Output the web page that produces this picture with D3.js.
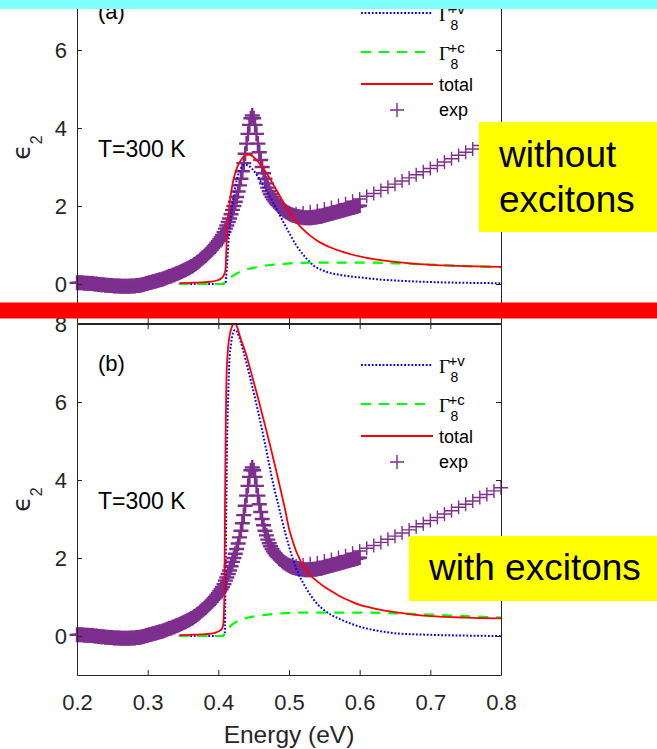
<!DOCTYPE html>
<html>
<head>
<meta charset="utf-8">
<script src="https://cdn.jsdelivr.net/npm/d3@7"></script>
<style>
  html, body { margin: 0; padding: 0; background: #fff; }
  svg { display: block; }
</style>
</head>
<body>
<script>
// ---- axis ticks ----
const energyTicks = [0.2, 0.3, 0.4, 0.5, 0.6, 0.7, 0.8];
const epsTicks = [0, 2, 4, 6, 8];

// ---- measured eps2, fine scan (2 meV steps, 0.200 ... 0.600 eV) ----
const expFineEps = [
  0.03,0.03,0.03,0.03,0.03,0.02,0.02,0.02,0.02,0.01,
  0.01,0.01,0.00,0.00,0.00,-0.01,-0.01,-0.02,-0.02,-0.02,
  -0.03,-0.03,-0.03,-0.04,-0.04,-0.04,-0.05,-0.05,-0.05,-0.05,
  -0.05,-0.06,-0.06,-0.06,-0.06,-0.06,-0.06,-0.06,-0.05,-0.05,
  -0.05,-0.05,-0.04,-0.04,-0.03,-0.03,-0.02,-0.01,0.00,0.01,
  0.02,0.03,0.04,0.05,0.06,0.07,0.08,0.09,0.10,0.11,
  0.12,0.13,0.15,0.16,0.17,0.19,0.20,0.21,0.23,0.24,
  0.26,0.27,0.29,0.30,0.32,0.34,0.35,0.37,0.39,0.41,
  0.43,0.45,0.47,0.50,0.52,0.55,0.58,0.61,0.64,0.67,
  0.70,0.73,0.77,0.80,0.84,0.88,0.92,0.96,1.00,1.05,
  1.10,1.15,1.20,1.26,1.33,1.42,1.50,1.59,1.68,1.79,
  1.90,2.00,2.11,2.23,2.37,2.53,2.70,2.89,3.10,3.34,
  3.60,3.85,4.08,4.25,4.32,4.25,4.08,3.85,3.60,3.38,
  3.18,3.00,2.84,2.70,2.58,2.47,2.38,2.30,2.23,2.17,
  2.12,2.07,2.03,1.99,1.96,1.93,1.90,1.87,1.85,1.83,
  1.81,1.79,1.77,1.76,1.75,1.74,1.73,1.72,1.72,1.71,
  1.71,1.70,1.70,1.70,1.70,1.70,1.70,1.71,1.71,1.72,
  1.72,1.73,1.73,1.74,1.75,1.76,1.77,1.78,1.79,1.80,
  1.81,1.82,1.83,1.84,1.85,1.86,1.87,1.88,1.89,1.90,
  1.91,1.92,1.93,1.94,1.95,1.96,1.97,1.98,1.99,2.00,
  2.01
];
// ---- measured eps2, coarse scan (10 meV steps, 0.51 ... 0.80 eV) ----
const expCoarseEps = [
  1.80,1.82,1.85,1.88,1.92,1.96,2.01,2.06,2.12,2.18,
  2.25,2.32,2.40,2.48,2.56,2.64,2.72,2.80,2.88,2.96,
  3.04,3.13,3.21,3.30,3.38,3.46,3.55,3.63,3.72,3.80
];

// ---- model, without excitons: [energy eV, eps2] ----
const gvNoExc = [[0.345,0],[0.405,0],[0.410,0.02],[0.412,0.4],[0.414,1.0],[0.417,1.6],[0.420,2.05],[0.424,2.5],[0.428,2.8],[0.432,2.97],[0.437,3.06],[0.442,3.04],[0.448,2.95],[0.455,2.78],[0.462,2.57],[0.470,2.33],[0.478,2.07],[0.486,1.8],[0.494,1.52],[0.502,1.25],[0.510,1.0],[0.518,0.8],[0.526,0.63],[0.535,0.47],[0.545,0.37],[0.555,0.3],[0.57,0.24],[0.585,0.2],[0.6,0.17],[0.625,0.12],[0.65,0.09],[0.7,0.05],[0.75,0.03],[0.8,0.02]];
const gcNoExc = [[0.345,0],[0.405,0],[0.41,0.05],[0.415,0.13],[0.42,0.2],[0.426,0.27],[0.433,0.33],[0.443,0.39],[0.454,0.43],[0.47,0.48],[0.49,0.51],[0.51,0.54],[0.54,0.55],[0.6,0.55],[0.65,0.53],[0.7,0.5],[0.75,0.46],[0.8,0.43]];
const totNoExc = [[0.345,0.02],[0.36,0.03],[0.375,0.04],[0.39,0.06],[0.398,0.09],[0.403,0.13],[0.407,0.2],[0.410,0.35],[0.411,0.7],[0.412,1.2],[0.414,1.7],[0.417,2.2],[0.420,2.55],[0.424,2.85],[0.428,3.05],[0.433,3.2],[0.438,3.3],[0.443,3.32],[0.448,3.28],[0.455,3.16],[0.463,2.98],[0.471,2.76],[0.48,2.48],[0.49,2.16],[0.5,1.86],[0.51,1.6],[0.52,1.4],[0.53,1.24],[0.54,1.11],[0.55,1.01],[0.56,0.93],[0.575,0.83],[0.59,0.75],[0.61,0.67],[0.63,0.61],[0.65,0.57],[0.675,0.52],[0.7,0.49],[0.75,0.46],[0.8,0.44]];

// ---- model, with excitons ----
const gvExc = [[0.345,0],[0.405,0],[0.409,0.05],[0.4105,2.0],[0.412,4.5],[0.414,6.2],[0.4155,7.0],[0.418,7.5],[0.421,7.78],[0.4236,7.85],[0.427,7.78],[0.431,7.58],[0.435,7.33],[0.44,6.98],[0.445,6.62],[0.45,6.25],[0.455,5.85],[0.46,5.45],[0.465,5.02],[0.47,4.58],[0.475,4.12],[0.48,3.72],[0.485,3.35],[0.49,2.98],[0.495,2.62],[0.5,2.3],[0.505,2.0],[0.51,1.74],[0.52,1.36],[0.53,1.06],[0.54,0.82],[0.55,0.66],[0.56,0.54],[0.57,0.45],[0.58,0.37],[0.59,0.3],[0.6,0.24],[0.615,0.17],[0.63,0.12],[0.65,0.07],[0.7,0.03],[0.75,0.01],[0.8,0]];
const gcExc = [[0.345,0],[0.405,0],[0.41,0.07],[0.416,0.23],[0.42,0.3],[0.425,0.36],[0.431,0.41],[0.44,0.46],[0.454,0.51],[0.47,0.55],[0.49,0.58],[0.52,0.6],[0.56,0.6],[0.6,0.6],[0.65,0.58],[0.7,0.55],[0.75,0.51],[0.8,0.47]];
const totExc = [[0.345,0.02],[0.36,0.03],[0.375,0.04],[0.39,0.06],[0.398,0.1],[0.403,0.15],[0.406,0.22],[0.407,0.3],[0.4085,1.0],[0.4095,3.5],[0.4105,5.5],[0.4115,6.6],[0.413,7.2],[0.4155,7.65],[0.419,7.92],[0.4225,8.02],[0.426,7.95],[0.43,7.72],[0.435,7.45],[0.44,7.18],[0.445,6.85],[0.45,6.52],[0.455,6.18],[0.46,5.83],[0.465,5.48],[0.47,5.12],[0.475,4.76],[0.48,4.38],[0.485,4.0],[0.49,3.6],[0.495,3.2],[0.5,2.75],[0.505,2.45],[0.51,2.18],[0.515,1.98],[0.52,1.8],[0.53,1.56],[0.54,1.4],[0.55,1.26],[0.56,1.15],[0.57,1.04],[0.58,0.95],[0.59,0.87],[0.6,0.8],[0.615,0.73],[0.63,0.67],[0.65,0.61],[0.675,0.55],[0.7,0.51],[0.75,0.47],[0.8,0.45]];

const W = 657, H = 749;
const SANS = "'Liberation Sans', Arial, Helvetica, sans-serif";
const SERIF = "'Liberation Serif', 'Times New Roman', serif";
const AXIS = "#262626";
const PURPLE = "#7e2f8e";

const fineE = d3.range(expFineEps.length).map(i => 0.2 + i * 0.002);
const coarseE = d3.range(expCoarseEps.length).map(i => 0.51 + i * 0.01);
const finePts = fineE.map((e, i) => [e, expFineEps[i]]);
const coarsePts = coarseE.map((e, i) => [e, expCoarseEps[i]]);

const svg = d3.select("body").append("svg")
  .attr("width", W).attr("height", H)
  .attr("font-family", SANS);
svg.append("rect").attr("width", W).attr("height", H).attr("fill", "#fff");

const x = d3.scaleLinear().domain([0.2, 0.8]).range([77, 501]);
const PLUS = "M-7,0H7M0,-7V7";
const PLUS_FINE = "M-7.5,0H7.5M0,-7.5V7.5";

const panels = [
  { id: "b", top: 324, bottom: 675, tag: "(b)", gv: gvExc, gc: gcExc, tot: totExc, xLabels: true },
  { id: "a", top: -28, bottom: 323, tag: "(a)", gv: gvNoExc, gc: gcNoExc, tot: totNoExc, xLabels: false }
];

function styleAxis(sel) {
  sel.attr("font-family", SANS).attr("font-size", 22);
  sel.select(".domain").attr("stroke", AXIS).attr("stroke-width", 1);
  sel.selectAll(".tick line").attr("stroke", AXIS).attr("stroke-width", 1);
  sel.selectAll(".tick text").attr("fill", AXIS);
}

panels.forEach(p => {
  const y = d3.scaleLinear().domain([-1, 8]).range([p.bottom, p.top]);
  const g = svg.append("g");

  g.append("clipPath").attr("id", "clip-" + p.id)
    .append("rect").attr("x", x(0.2)).attr("y", p.top)
    .attr("width", x(0.8) - x(0.2)).attr("height", p.bottom - p.top);

  // measured points: fine scan, then coarse scan
  const marks = g.append("g").attr("fill", "none").attr("stroke", PURPLE);
  marks.append("g").attr("stroke-width", 2.4).selectAll("path").data(finePts).join("path")
    .attr("d", PLUS_FINE)
    .attr("transform", d => `translate(${x(d[0])},${y(d[1])})`);
  marks.append("g").attr("stroke-width", 1.4).selectAll("path").data(coarsePts).join("path")
    .attr("d", PLUS)
    .attr("transform", d => `translate(${x(d[0])},${y(d[1])})`);

  // model curves
  const line = d3.line().x(d => x(d[0])).y(d => y(d[1])).curve(d3.curveMonotoneX);
  const curves = g.append("g").attr("clip-path", `url(#clip-${p.id})`).attr("fill", "none");
  curves.append("path").attr("d", line(p.gv))
    .attr("stroke", "#0000ff").attr("stroke-width", 2).attr("stroke-dasharray", "1.8,1.8");
  curves.append("path").attr("d", line(p.gc))
    .attr("stroke", "#00ff00").attr("stroke-width", 2.2).attr("stroke-dasharray", "10,8");
  curves.append("path").attr("d", line(p.tot))
    .attr("stroke", "#ff0000").attr("stroke-width", 1.8);

  // axes box with inward ticks
  g.append("g").attr("transform", `translate(0,${p.bottom})`)
    .call(d3.axisBottom(x).tickValues(energyTicks).tickSizeInner(-5).tickSizeOuter(0).tickPadding(19)
      .tickFormat(p.xLabels ? d3.format(".1f") : () => ""))
    .call(styleAxis);
  g.append("g").attr("transform", `translate(0,${p.top})`)
    .call(d3.axisTop(x).tickValues(energyTicks).tickSizeInner(-5).tickSizeOuter(0).tickFormat(() => ""))
    .call(styleAxis);
  g.append("g").attr("transform", `translate(${x(0.2)},0)`)
    .call(d3.axisLeft(y).tickValues(epsTicks).tickSizeInner(-5).tickSizeOuter(0).tickPadding(10))
    .call(styleAxis);
  g.append("g").attr("transform", `translate(${x(0.8)},0)`)
    .call(d3.axisRight(y).tickValues(epsTicks).tickSizeInner(-5).tickSizeOuter(0).tickFormat(() => ""))
    .call(styleAxis);

  // y label: epsilon_2
  const yl = g.append("text")
    .attr("transform", `translate(30,${(p.top + p.bottom) / 2}) rotate(-90)`)
    .attr("text-anchor", "middle").attr("fill", AXIS)
    .attr("font-family", "'DejaVu Sans', " + SANS);
  yl.append("tspan").attr("font-size", 25).text("\u03F5");
  yl.append("tspan").attr("font-size", 16).attr("dy", 12).attr("font-family", SANS).text("2");

  // panel tag and temperature
  g.append("text").attr("x", 98).attr("y", p.top + 46.7).attr("font-size", 22).attr("fill", "#000").text(p.tag);
  g.append("text").attr("x", 98).attr("y", p.top + 185.3).attr("font-size", 23).attr("fill", "#000").text("T=300 K");

  // legend
  const lg = g.append("g");
  const rows = [
    { dy: 41, stroke: "#0000ff", w: 2, dash: "1.8,1.8", sup: "+v" },
    { dy: 80, stroke: "#00ff00", w: 2.2, dash: "10,8", sup: "+c" },
    { dy: 112, stroke: "#ff0000", w: 1.8, dash: null, txt: "total" }
  ];
  rows.forEach(r => {
    const ly = p.top + r.dy;
    const ln = lg.append("line").attr("x1", 361).attr("x2", 433).attr("y1", ly).attr("y2", ly)
      .attr("stroke", r.stroke).attr("stroke-width", r.w);
    if (r.dash) ln.attr("stroke-dasharray", r.dash);
    if (r.sup) {
      lg.append("text").attr("x", 439).attr("y", ly + 7.7).attr("font-family", SERIF)
        .attr("font-size", 19).attr("fill", "#000").text("\u0393");
      lg.append("text").attr("x", 448.5).attr("y", ly + 0.5).attr("font-size", 15).attr("fill", "#000").text(r.sup);
      lg.append("text").attr("x", 450.5).attr("y", ly + 16.7).attr("font-size", 14).attr("fill", "#000").text("8");
    } else {
      lg.append("text").attr("x", 439).attr("y", ly + 6.5).attr("font-size", 18).attr("fill", "#000").text(r.txt);
    }
  });
  lg.append("path").attr("d", PLUS).attr("transform", `translate(397,${p.top + 138})`)
    .attr("fill", "none").attr("stroke", PURPLE).attr("stroke-width", 1.4);
  lg.append("text").attr("x", 439).attr("y", p.top + 144).attr("font-size", 18).attr("fill", "#000").text("exp");
});

// x label
svg.append("text").attr("x", 289).attr("y", 743).attr("text-anchor", "middle")
  .attr("font-size", 24.5).attr("fill", AXIS).text("Energy (eV)");

// overlays
svg.append("rect").attr("x", 0).attr("y", 0).attr("width", W).attr("height", 9).attr("fill", "#80ffff");
svg.append("rect").attr("x", 0).attr("y", 302.5).attr("width", W).attr("height", 16).attr("fill", "#ff0000");

svg.append("rect").attr("x", 479).attr("y", 122).attr("width", W - 479).attr("height", 110).attr("fill", "#ffff00");
svg.append("text").attr("x", 499).attr("y", 166.7).attr("font-size", 37).attr("fill", "#000").text("without");
svg.append("text").attr("x", 499).attr("y", 211.7).attr("font-size", 37).attr("fill", "#000").text("excitons");

svg.append("rect").attr("x", 409).attr("y", 536).attr("width", W - 409).attr("height", 65).attr("fill", "#ffff00");
svg.append("text").attr("x", 429).attr("y", 580).attr("font-size", 37).attr("fill", "#000").text("with excitons");
</script>
</body>
</html>
